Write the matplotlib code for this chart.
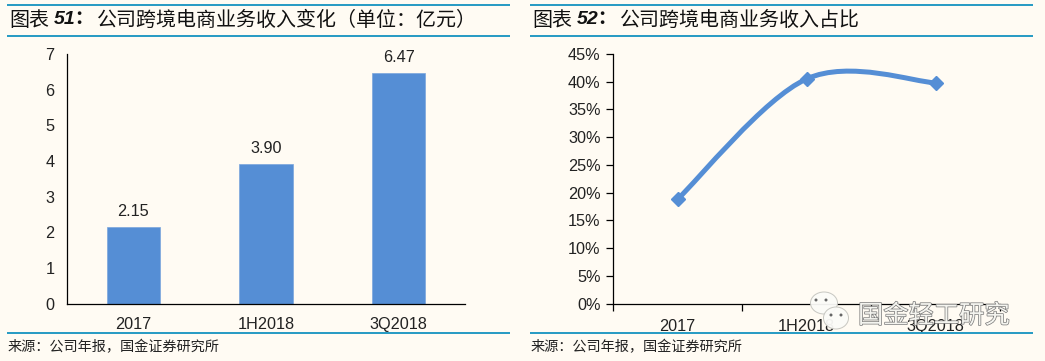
import matplotlib as mpl
mpl.use('Agg')
import matplotlib.pyplot as plt
import matplotlib.patheffects as pe
from matplotlib.patches import Ellipse, PathPatch, Rectangle
from matplotlib.path import Path
import numpy as np

W, H = 1045, 361
BG = '#fffbf3'
RULE = '#2a9cc4'
BLUE = '#558ed5'
CJK = ['Noto Sans CJK SC', 'DejaVu Sans']
LATIN = 'Liberation Sans'

mpl.rc('font', family=LATIN, size=11.7)

categories = ['2017', '1H2018', '3Q2018']
revenue = [2.15, 3.90, 6.47]
revenue_labels = ['2.15', '3.90', '6.47']
share = [18.8, 40.5, 39.8]
rev_ticks = [0, 1, 2, 3, 4, 5, 6, 7]
share_ticks = [0, 5, 10, 15, 20, 25, 30, 35, 40, 45]
share_ticklabels = [f'{v}%' for v in share_ticks]

# full width punctuation written as escapes
title_left = '公司跨境电商业务收入变化\uff08单位\uff1a亿元\uff09'
title_right = '公司跨境电商业务收入占比'
source = '来源\uff1a公司年报\uff0c国金证券研究所'

fig = plt.figure(figsize=(W/100, H/100), dpi=100, facecolor=BG)


def axes_px(x0, x1, ytop, ybot):
    ax = fig.add_axes([x0/W, 1 - ybot/H, (x1 - x0)/W, (ybot - ytop)/H])
    ax.patch.set_alpha(0)
    for s in ('top', 'right'):
        ax.spines[s].set_visible(False)
    for s in ('left', 'bottom'):
        ax.spines[s].set_linewidth(0.9)
    return ax


def hrule(x0, x1, y):
    fig.add_artist(Rectangle((x0/W, 1 - (y + 1.25)/H), (x1 - x0)/W, 2.5/H,
                             transform=fig.transFigure, color=RULE, lw=0))


def ftext(x, y, s, **kw):
    return fig.text(x/W, 1 - y/H, s, va='center', **kw)


# frames and captions
for x0, x1, num, title, xt in ((7, 510, '51', title_left, 97),
                               (530, 1033, '52', title_right, 620)):
    hrule(x0, x1, 5)
    hrule(x0, x1, 36)
    hrule(x0, x1, 333)
    ftext(x0 + 2, 20, '图表', family=CJK, fontsize=14.4, color='#111111')
    ftext(x0 + 47, 20, num + '\uff1a', family=[LATIN, 'Noto Sans CJK SC'], fontsize=14,
          weight='bold', style='italic', color='#111111')
    ftext(xt, 20, title, family=CJK, fontsize=14.4, color='#111111')
    ftext(x0 + 1, 347, source, family=CJK, fontsize=10.2, color='#222222')

# left chart
ax = axes_px(67, 465, 54, 303.5)
x = np.arange(len(categories))
bars = ax.bar(x, revenue, width=0.4, color=BLUE, edgecolor='#7aa5dc', lw=0.5)
for xi, v, lab in zip(x, revenue, revenue_labels):
    ax.annotate(lab, (xi, v), xytext=(0, 6), textcoords='offset points',
                ha='center', va='bottom', color='#222222')
ax.set(xlim=(-0.5, 2.5), ylim=(0, 7), xticks=x, xticklabels=categories, yticks=rev_ticks)
ax.tick_params(axis='both', length=0, labelsize=11.7, labelcolor='#222222')
ax.tick_params(axis='y', pad=9)
ax.tick_params(axis='x', pad=10)

# right chart
ax = axes_px(613, 1000, 54, 303.5)
x = np.arange(len(categories))
y = np.array(share)
# Excel style smoothing as bezier segments through the data points
verts = [(x[0], y[0])]
codes = [Path.MOVETO]
for i in range(len(x) - 1):
    p0 = np.array([x[max(i - 1, 0)], y[max(i - 1, 0)]], float)
    p1 = np.array([x[i], y[i]], float)
    p2 = np.array([x[i + 1], y[i + 1]], float)
    p3 = np.array([x[min(i + 2, len(x) - 1)], y[min(i + 2, len(x) - 1)]], float)
    verts += [tuple(p1 + (p2 - p0)/6), tuple(p2 - (p3 - p1)/6), tuple(p2)]
    codes += [Path.CURVE4]*3
ax.add_patch(PathPatch(Path(verts, codes), fc='none', ec=BLUE, lw=3.6, capstyle='round'))
ax.plot(x, y, ls='', marker='D', ms=7.5, color=BLUE)
ax.set(xlim=(-0.5, 2.5), ylim=(0, 45), yticks=share_ticks, yticklabels=share_ticklabels)
ax.set_xticks([-0.5, 0.5, 1.5, 2.5], minor=False, labels=[])
ax.set_xticks(x, minor=True, labels=categories)
ax.tick_params(axis='x', which='major', direction='out', length=5, width=0.9)
ax.tick_params(axis='x', which='minor', length=0, labelsize=11.7, labelcolor='#222222', pad=11)
ax.tick_params(axis='y', direction='out', length=5, width=0.9, labelsize=11.7,
               labelcolor='#222222', pad=4)

# watermark over the right chart
for cx, cy, w, h in ((824, 303, 27, 22), (836, 318, 25, 22)):
    fig.add_artist(Ellipse((cx/W, 1 - cy/H), w/W, h/H, transform=fig.transFigure,
                           fc='#fbfbf8', ec='#c4c4be', lw=0.7, alpha=0.95))
for cx, cy in ((816, 300), (826, 300), (831, 315), (841, 315)):
    fig.add_artist(Ellipse((cx/W, 1 - cy/H), 3/W, 3/H, transform=fig.transFigure,
                           fc='#666666', ec='none'))
ftext(858, 316, '国金轻工研究', family=CJK, fontsize=18.2, color='#f4f4ef',
      path_effects=[pe.withStroke(linewidth=1.0, foreground='#777777')])

fig.savefig('out.png', dpi=100, facecolor=BG)
